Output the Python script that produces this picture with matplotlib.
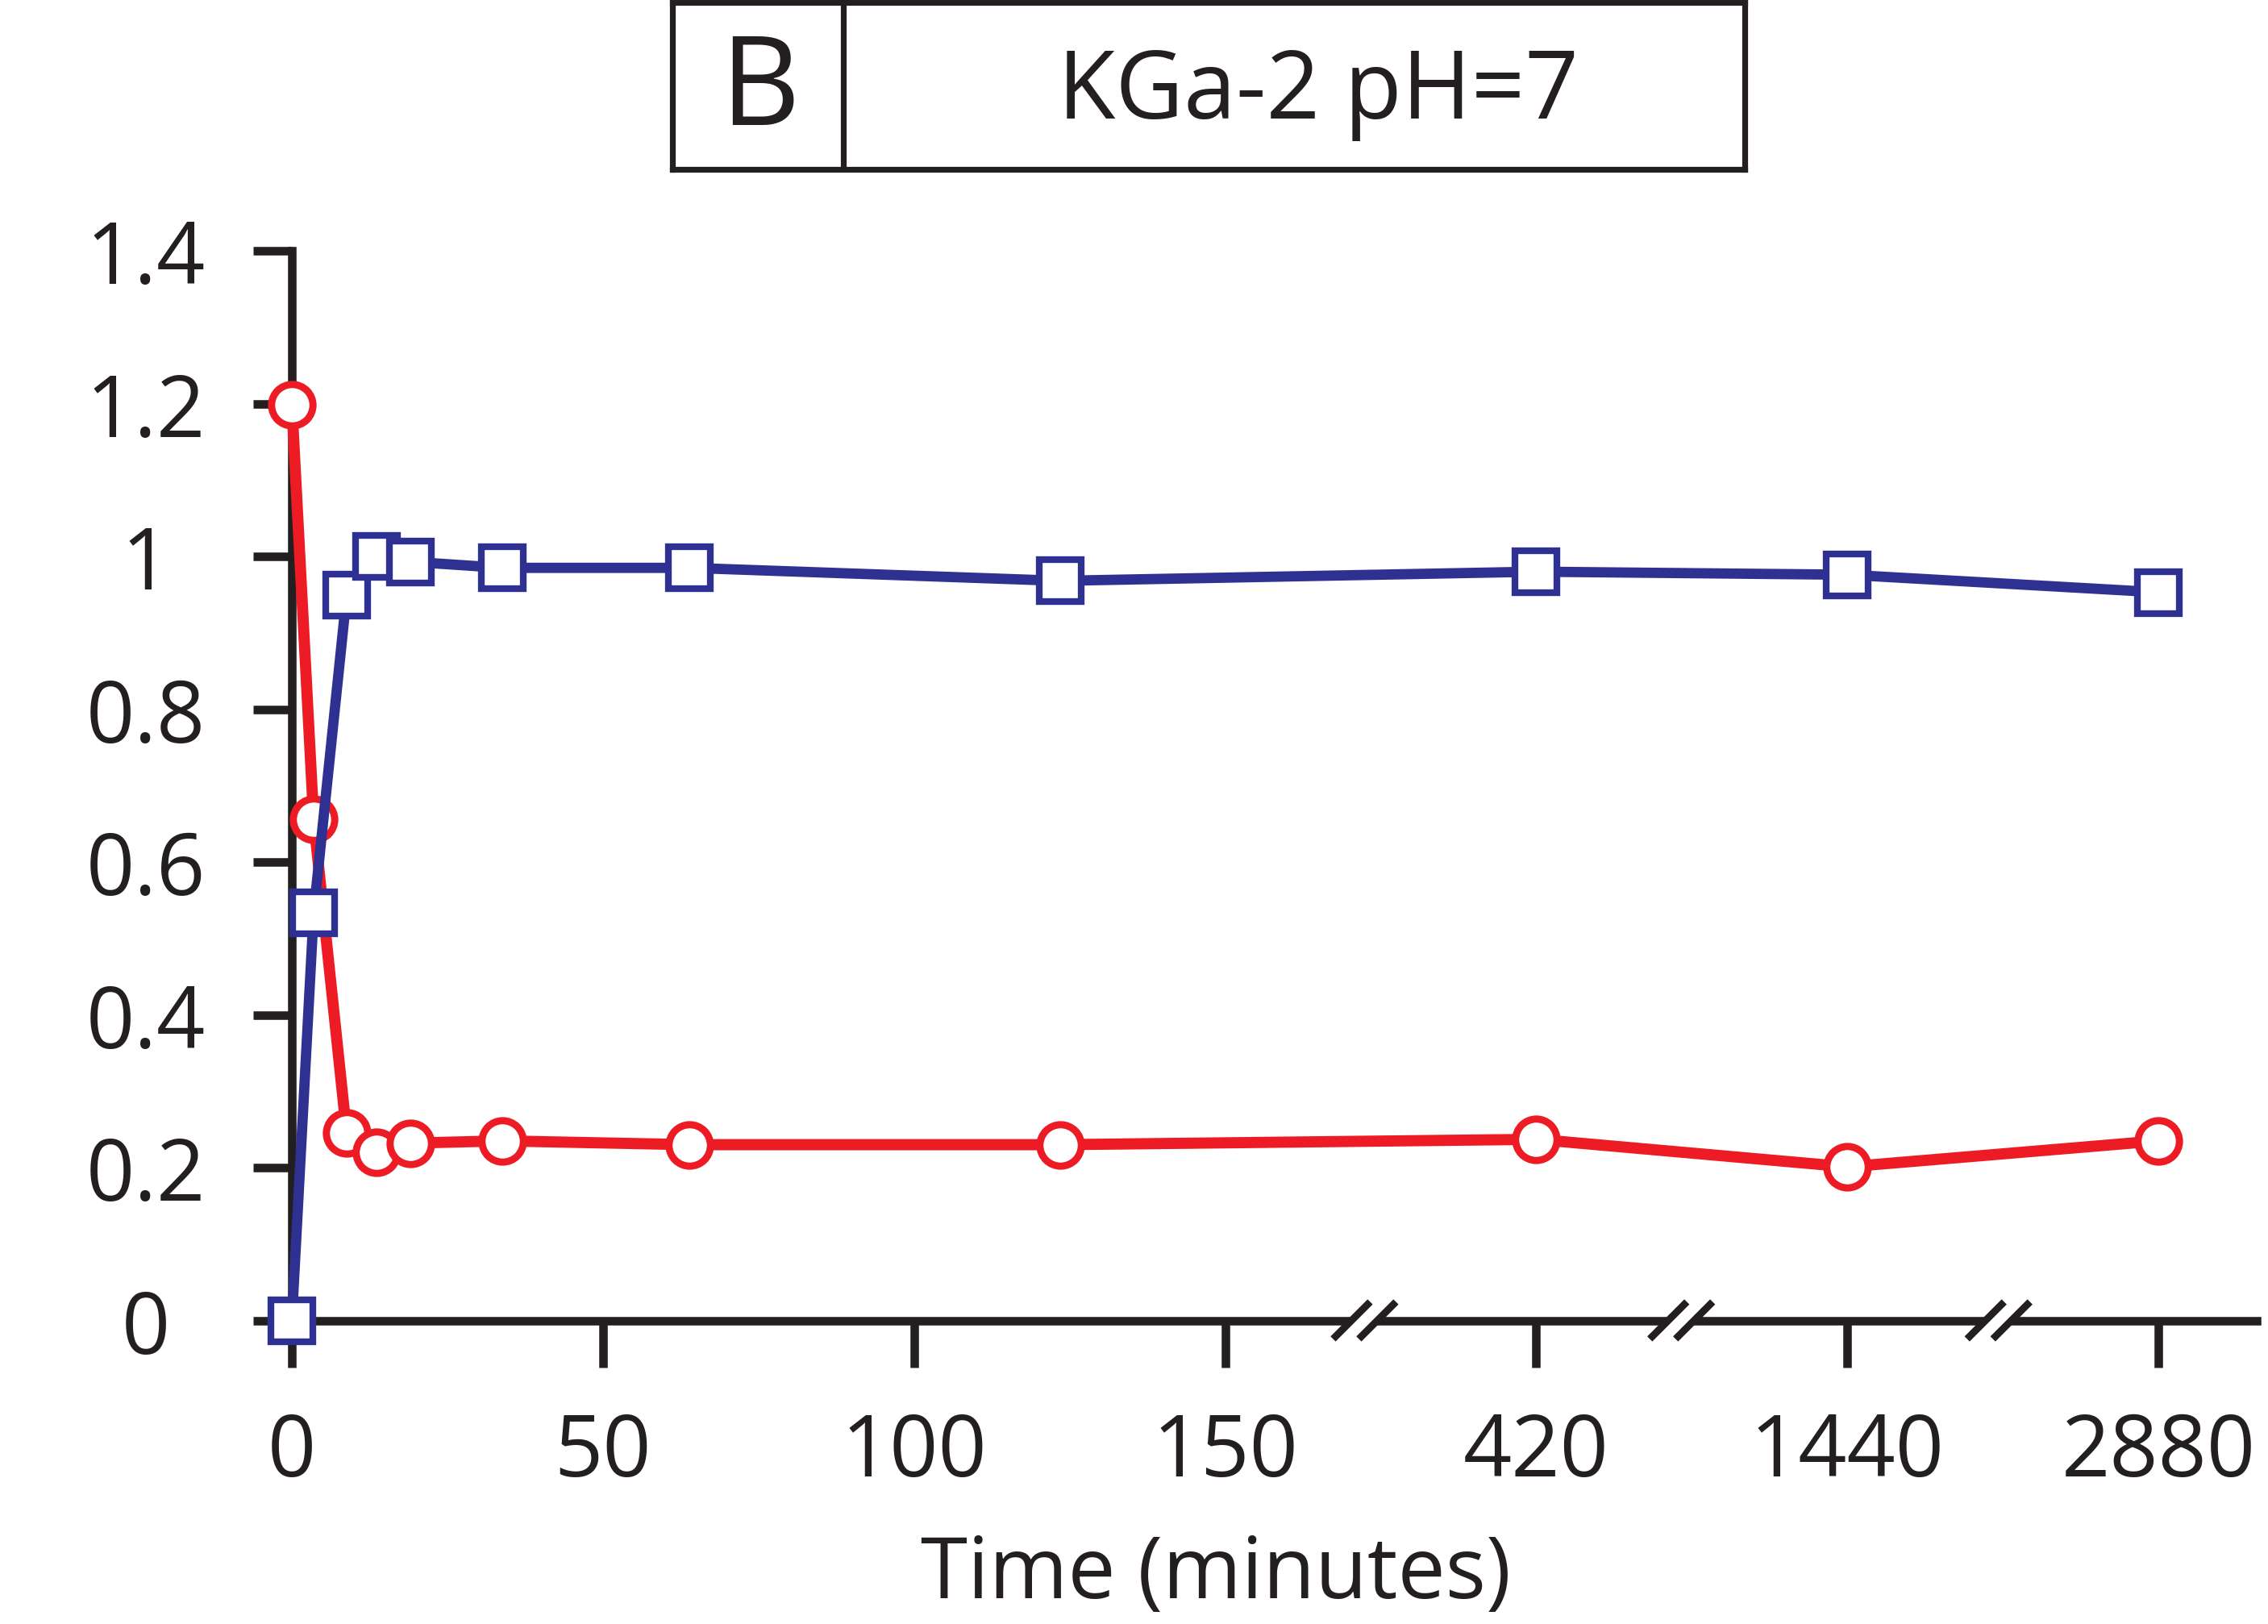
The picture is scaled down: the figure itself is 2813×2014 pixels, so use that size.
"""
KGa-2 pH=7 面板 B：两条随时间变化的曲线（断轴）
"""
import matplotlib
matplotlib.use('Agg')
import matplotlib.pyplot as plt
from matplotlib.lines import Line2D
from matplotlib.patches import Polygon
from matplotlib.transforms import ScaledTranslation

plt.rcParams['font.family'] = ['Open Sans', 'DejaVu Sans']

# ---- 数据 ----
time_min = [0, 3.5, 8.8, 13.6, 19, 33.8, 63.9, 123.5, 420, 1440, 2880]
red_values = [1.198, 0.656, 0.245, 0.220, 0.232, 0.235, 0.230, 0.230, 0.237, 0.201, 0.235]
blue_values = [0.0, 0.533, 0.949, 1.0, 0.993, 0.985, 0.985, 0.968, 0.980, 0.976, 0.953]

x_tick_labels = ['0', '50', '100', '150', '420', '1440', '2880']
y_ticks = [0, 0.2, 0.4, 0.6, 0.8, 1.0, 1.2, 1.4]
y_tick_labels = ['0', '0.2', '0.4', '0.6', '0.8', '1', '1.2', '1.4']

panel_letter = 'B'
panel_title = 'KGa-2 pH=7'
x_label = 'Time (minutes)'

# 断轴之后每个时间点占一个 50 的格子
broken_times = [420, 1440, 2880]
break_marks = [172.4, 223.3, 274.3]

RED = '#ED1C24'
BLUE = '#2E3192'
BLACK = '#231F20'
DPI = 200


def axis_pos(t):
    """把时间映射到断轴上的位置"""
    if t <= 150:
        return t
    return 150 + 50 * (broken_times.index(t) + 1)


def draw_break(fig, ax, x):
    """在 x 轴上画 // 断轴符号"""
    trans = fig.dpi_scale_trans + ScaledTranslation(x, 0, ax.transData)
    px = 1.0 / DPI
    sep, half = 16 * px, 23 * px
    gap = 9 * px
    # 两条斜线之间擦白
    ax.add_patch(Polygon([(-sep - gap, -gap), (-sep + gap, gap),
                          (sep + gap, gap), (sep - gap, -gap)],
                         closed=True, facecolor='white', edgecolor='none',
                         transform=trans, clip_on=False, zorder=2.8))
    for s in (-sep, sep):
        ax.add_line(Line2D([s - half, s + half], [-half, half], color=BLACK,
                           lw=3.2, solid_capstyle='butt', transform=trans,
                           clip_on=False, zorder=2.9))


def main():
    fig = plt.figure(figsize=(2813 / DPI, 2015 / DPI), dpi=DPI)

    ax = fig.add_axes([362 / 2813, 1 - 1638.5 / 2015,
                       (2799 - 362) / 2813, (1638.5 - 312) / 2015])
    xs = [axis_pos(t) for t in time_min]

    ax.plot(xs, red_values, color=RED, lw=5, marker='o', ms=18.5,
            mfc='white', mec=RED, mew=3.2, clip_on=False, zorder=3)
    ax.plot(xs, blue_values, color=BLUE, lw=4.6, marker='s', ms=19,
            mfc='white', mec=BLUE, mew=3.0, clip_on=False, zorder=4,
            solid_joinstyle='round')

    ax.set_xlim(0, (2799 - 362) / 7.717)
    ax.set_ylim(0, 1.4)

    for side in ('top', 'right'):
        ax.spines[side].set_visible(False)
    for side in ('left', 'bottom'):
        ax.spines[side].set_linewidth(3.8)
        ax.spines[side].set_color(BLACK)
        ax.spines[side].set_capstyle('projecting')

    ax.set_xticks([axis_pos(int(l)) for l in x_tick_labels])
    ax.set_xticklabels(x_tick_labels)
    ax.set_yticks(y_ticks)
    ax.set_yticklabels(y_tick_labels)

    ax.tick_params(axis='x', direction='out', length=21, width=3.8,
                   color=BLACK, pad=19, labelsize=38, labelcolor=BLACK)
    ax.tick_params(axis='y', direction='out', length=17.3, width=3.8,
                   color=BLACK, pad=48, labelsize=38, labelcolor=BLACK)
    for lab in ax.get_yticklabels():
        lab.set_horizontalalignment('center')

    for b in break_marks:
        draw_break(fig, ax, b)

    # x 轴标题
    fig.text(1508 / 2813, 1 - 1982 / 2015, x_label, ha='center',
             va='baseline', fontsize=38, color=BLACK)

    # 顶部标题框
    box = fig.add_axes([834 / 2813, 1 - 210.5 / 2015,
                        (2164 - 834) / 2813, (210.5 - 3.5) / 2015])
    box.set_xticks([])
    box.set_yticks([])
    for sp in box.spines.values():
        sp.set_linewidth(2.6)
        sp.set_color(BLACK)
    box.axvline((1046 - 834) / (2164 - 834), color=BLACK, lw=2.6)

    fig.text(942 / 2813, 1 - 155 / 2015, panel_letter, ha='center',
             va='baseline', fontsize=55, color=BLACK)
    fig.text(1635 / 2813, 1 - 147 / 2015, panel_title, ha='center',
             va='baseline', fontsize=42, color=BLACK)

    fig.savefig('out.png', dpi=DPI, facecolor='white')


if __name__ == '__main__':
    main()
